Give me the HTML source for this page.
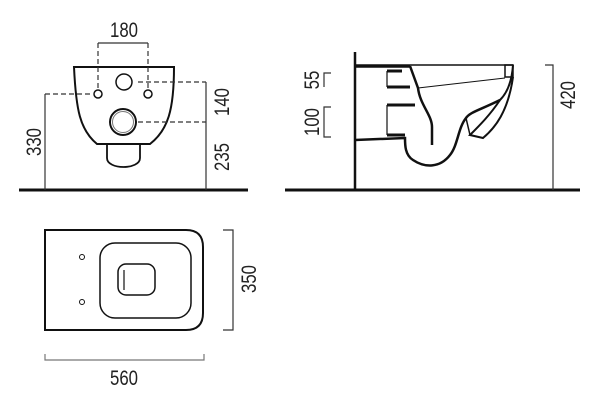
<!DOCTYPE html>
<html><head><meta charset="utf-8"><style>
html,body{margin:0;padding:0;background:#fff}
svg{display:block}
text{font-family:"Liberation Sans",sans-serif;font-size:21px;fill:#222}
</style></head><body>
<svg width="600" height="408" viewBox="0 0 600 408" xmlns="http://www.w3.org/2000/svg">
<g fill="none" stroke="#111">
<!-- front view -->
<line x1="19" y1="190" x2="248" y2="190" stroke-width="3"/>
<path d="M74,67 L174,67 C174,110 168,130 150,144 L97,144 C80,130 76,110 74,67 Z" stroke-width="2"/>
<path d="M107,144 L107,158 C107,170 140,170 140,158 L140,144" stroke-width="1.8"/>
<circle cx="124" cy="82" r="8" stroke-width="1.5"/>
<circle cx="98" cy="94" r="4" stroke-width="1.5"/>
<circle cx="148" cy="94" r="4" stroke-width="1.5"/>
<circle cx="123" cy="122" r="13" stroke-width="2"/>
<circle cx="123" cy="122" r="10.5" stroke-width="1" stroke="#777"/>
<g stroke="#333" stroke-width="1.2">
<line x1="98" y1="43" x2="148" y2="43"/>
<path d="M98,43 V90 M148,43 V90" stroke-dasharray="5,3"/>
<path d="M45,94 H92" stroke-dasharray="5,3"/>
<line x1="45" y1="94" x2="45" y2="190"/>
<path d="M138,82 H206 M138,122 H206" stroke-dasharray="5,3"/>
<line x1="206" y1="82" x2="206" y2="190"/>
</g>
<!-- side view -->
<line x1="285" y1="190" x2="580" y2="190" stroke-width="3"/>
<line x1="355" y1="52" x2="355" y2="190" stroke-width="2.5"/>
<line x1="355" y1="66" x2="410" y2="66" stroke-width="3.5"/>
<line x1="410" y1="65" x2="513" y2="65" stroke-width="1.5"/>
<path d="M505,65 h8 v12 h-8 z" stroke-width="1.5"/>
<path d="M513,65 C512,80 508,92 500,100 C490,115 480,125 470,135 L483,138 C495,128 508,112 513,77" stroke-width="2"/>
<path d="M500,100 C480,110 470,112 466,118 C458,128 458,145 450,155 C440,168 425,168 413,160 C405,155 405,145 405,138 L355,140" stroke-width="2.5"/>
<path d="M466,118 L470,135" stroke-width="1.5"/>
<path d="M410,66 L418,88 C420,105 432,115 432,127 L432,145" stroke-width="2.5"/>
<line x1="418" y1="88" x2="505" y2="78" stroke-width="1"/>
<path d="M387,71 V87 M387,105 V135" stroke-width="1.2"/>
<path d="M387,71 H402 M387,87 H410 M387,105 H415 M387,135 H405" stroke-width="3"/>
<g stroke="#333" stroke-width="1.2">
<path d="M331,73 H324 V87"/>
<path d="M331,107 H324 V137 H331"/>
<path d="M545,65 H553 V190"/>
</g>
<!-- plan view -->
<path d="M45,230 H186 Q203,230 203,247 V313 Q203,330 186,330 H45 Z" stroke-width="2"/>
<rect x="100" y="243" width="91" height="75" rx="15" stroke-width="1.5"/>
<rect x="118" y="264" width="37" height="31" rx="8" stroke-width="1.5"/>
<line x1="124" y1="270" x2="124" y2="290" stroke-width="1.2"/>
<circle cx="82" cy="257" r="2.5" stroke-width="1"/>
<circle cx="82" cy="302" r="2.5" stroke-width="1"/>
<g stroke="#777" stroke-width="1.2">
<path d="M223,230 H233 V330 H223" stroke="#333"/>
<path d="M45,354 V360 H204 V354"/>
</g>
</g>
<text transform="translate(124,37) scale(0.8,1)" text-anchor="middle">180</text>
<text transform="translate(41,142) rotate(-90) scale(0.8,1)" text-anchor="middle">330</text>
<text transform="translate(229,102) rotate(-90) scale(0.8,1)" text-anchor="middle">140</text>
<text transform="translate(229,157) rotate(-90) scale(0.8,1)" text-anchor="middle">235</text>
<text transform="translate(319,80) rotate(-90) scale(0.8,1)" text-anchor="middle">55</text>
<text transform="translate(319,122) rotate(-90) scale(0.8,1)" text-anchor="middle">100</text>
<text transform="translate(575,95) rotate(-90) scale(0.8,1)" text-anchor="middle">420</text>
<text transform="translate(256,279) rotate(-90) scale(0.8,1)" text-anchor="middle">350</text>
<text transform="translate(124,385) scale(0.8,1)" text-anchor="middle">560</text>
</svg>
</body></html>
